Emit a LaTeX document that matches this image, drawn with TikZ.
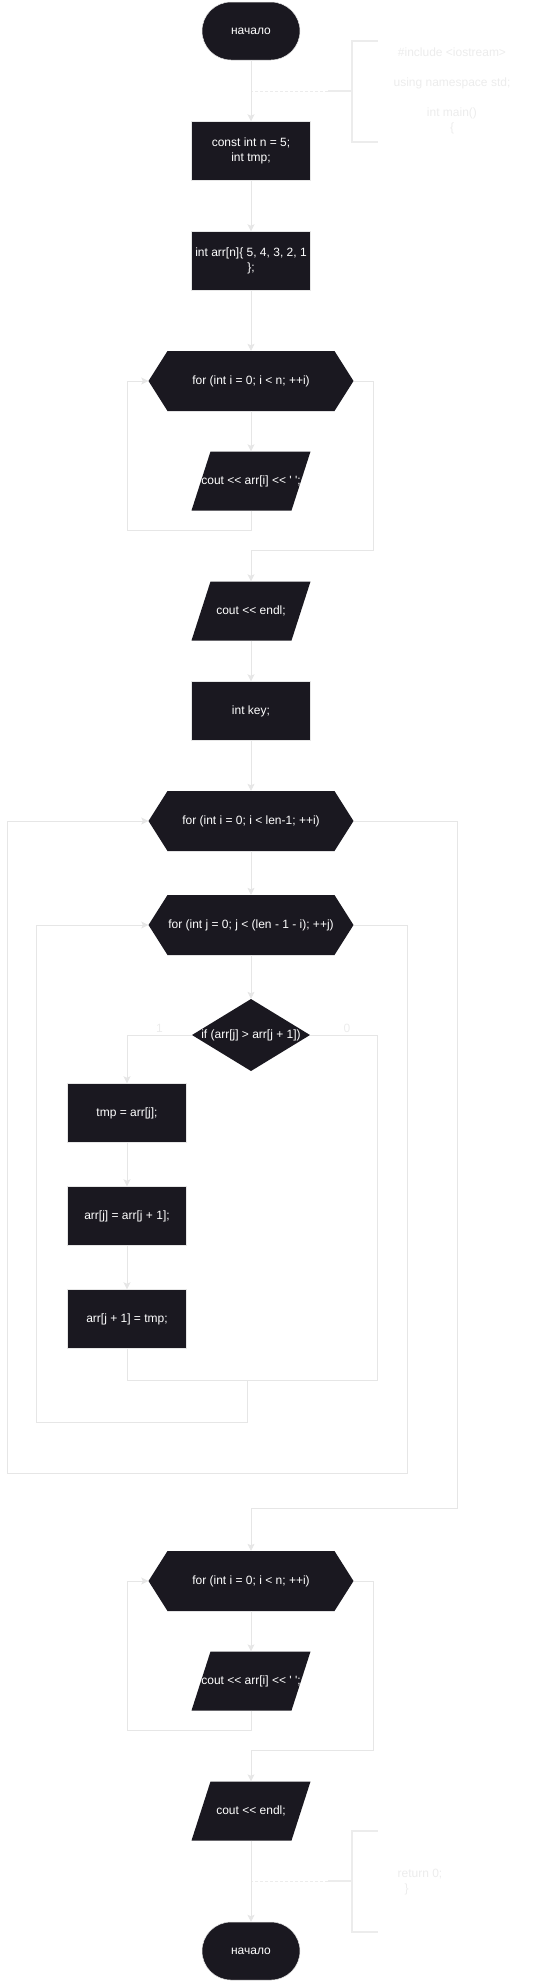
\documentclass[tikz,border=0pt]{standalone}
\usepackage{fontspec}
\setmainfont{Liberation Sans}[Ligatures=TeXOff]
\usetikzlibrary{arrows.meta}
\definecolor{blockfill}{RGB}{26,24,32}
\definecolor{linegray}{RGB}{230,230,230}
\definecolor{notegray}{RGB}{236,236,236}

\begin{document}
\begin{tikzpicture}[x=1pt,y=-1pt,>={Stealth[length=7pt,width=7pt,inset=1.5pt]},
    node distance=100pt,font=\fontsize{12}{15}\selectfont]
  \tikzstyle{conn}=[draw,color=linegray,line width=0.8pt,->]
  \tikzstyle{noteline}=[draw=notegray,line width=1.2pt]
  \tikzstyle{terminal}=[rectangle,rounded corners=29pt,fill=blockfill,draw=linegray,
    line width=0.5pt,text=white,minimum width=98pt,minimum height=58pt]
  \tikzstyle{block}=[rectangle,fill=blockfill,draw=linegray,line width=0.5pt,
    text=white,align=center,minimum width=119pt,minimum height=59pt,inner sep=2pt]
  \tikzstyle{io}=[rectangle,text=white,minimum width=119pt,minimum height=59pt,
    inner sep=0pt,path picture={\fill[blockfill]
      (path picture bounding box.south west)
      -- ([xshift=-19pt]path picture bounding box.south east)
      -- (path picture bounding box.north east)
      -- ([xshift=19pt]path picture bounding box.north west) -- cycle;}]
  \tikzstyle{forloop}=[rectangle,text=white,minimum width=205pt,minimum height=60pt,
    inner sep=0pt,path picture={\fill[blockfill]
      (path picture bounding box.west)
      -- ([xshift=19pt]path picture bounding box.north west)
      -- ([xshift=-19pt]path picture bounding box.north east)
      -- (path picture bounding box.east)
      -- ([xshift=-19pt]path picture bounding box.south east)
      -- ([xshift=19pt]path picture bounding box.south west) -- cycle;}]
  \tikzstyle{decision}=[rectangle,text=white,minimum width=118pt,minimum height=72pt,
    inner sep=0pt,path picture={\fill[blockfill]
      (path picture bounding box.west) -- (path picture bounding box.north)
      -- (path picture bounding box.east) -- (path picture bounding box.south) -- cycle;}]
  \tikzstyle{answer}=[text=notegray,inner sep=2pt]
  \tikzstyle{note}=[text=notegray,align=center]

  \useasboundingbox (0,0) rectangle (538,1982);

  % main column
  \node[terminal] (start) at (251,31) {начало};
  \node[block] (const) [below of=start, node distance=120pt] {const int n = 5;\\int tmp;};
  \node[block] (arr) [below of=const, node distance=110pt] {int arr[n]\{ 5, 4, 3, 2, 1\\\};};
  \node[forloop] (for1) [below of=arr, node distance=120pt] {for (int i = 0; i < n; ++i)};
  \node[io] (out1) [below of=for1] {cout << arr[i] << ' ';};
  \node[io] (endl1) [below of=out1, node distance=130pt] {cout << endl;};
  \node[block] (key) [below of=endl1] {int key;};
  \node[forloop] (fori) [below of=key, node distance=110pt] {for (int i = 0; i < len-1; ++i)};
  \node[forloop] (forj) [below of=fori, node distance=104pt] {for (int j = 0; j < (len - 1 - i); ++j)};
  \node[decision] (if) [below of=forj, node distance=110pt] {if (arr[j] > arr[j + 1])};
  \node[block] (tmp) at (127,1113) {tmp = arr[j];};
  \node[block] (swap1) [below of=tmp, node distance=103pt] {arr[j] = arr[j + 1];};
  \node[block] (swap2) [below of=swap1, node distance=103pt] {arr[j + 1] = tmp;};
  \node[forloop] (for2) at (251,1581) {for (int i = 0; i < n; ++i)};
  \node[io] (out2) [below of=for2] {cout << arr[i] << ' ';};
  \node[io] (endl2) [below of=out2, node distance=130pt] {cout << endl;};
  \node[terminal] (stop) [below of=endl2, node distance=140pt] {начало};

  % comments
  \node[note] (note1) at (452,91) {\#include <iostream>\\[15pt]using namespace std;\\[15pt]int main()\\\{};
  \node[note,align=left] (note2) at (420,1882) {return 0;\\\hspace*{7pt}\}};
  \coordinate (c1) at (251,91);
  \coordinate (c2) at (251,1881);
  \draw[noteline] (378,41) -- (352,41) -- (352,142) -- (378,142);
  \draw[noteline] (352,91) -- (328,91);
  \draw[noteline,line width=0.6pt,dash pattern=on 3pt off 2pt] (328,91) -- (c1);
  \draw[noteline] (378,1831) -- (352,1831) -- (352,1932) -- (378,1932);
  \draw[noteline] (352,1881) -- (328,1881);
  \draw[noteline,line width=0.6pt,dash pattern=on 3pt off 2pt] (328,1881) -- (c2);

  % straight arrows
  \path[conn] (start) edge (const)
              (const) edge (arr)
              (arr) edge (for1)
              (for1) edge (out1)
              (endl1) edge (key)
              (key) edge (fori)
              (fori) edge (forj)
              (forj) edge (if)
              (tmp) edge (swap1)
              (swap1) edge (swap2)
              (for2) edge (out2)
              (endl2) edge (stop);

  % first output loop
  \draw[conn] (out1.south) -- ++(0,20) -| ([xshift=-21pt]for1.west) -- (for1.west);
  \draw[conn] (for1.east) -- ++(20,0) |- ([yshift=31pt]endl1.north) -- (endl1.north);

  % sorting
  \coordinate (jjoin) at (247,1380);
  \draw[conn] (if.west) -| node[answer,above,pos=0.25] {1} (tmp.north);
  \draw[conn,-] (if.east) -- node[answer,above,pos=0.55] {0} ++(67,0) |- (jjoin);
  \draw[conn,-] (swap2.south) |- (jjoin);
  \draw[conn] (jjoin) -- ++(0,42) -| ([xshift=-112pt]forj.west) -- (forj.west);
  \draw[conn] (forj.east) -- ++(54,0) -- ++(0,548) -| ([xshift=-141pt]fori.west) -- (fori.west);
  \draw[conn] (fori.east) -- ++(104,0) |- ([yshift=42pt]for2.north) -- (for2.north);

  % second output loop
  \draw[conn] (out2.south) -- ++(0,20) -| ([xshift=-21pt]for2.west) -- (for2.west);
  \draw[conn] (for2.east) -- ++(20,0) |- ([yshift=31pt]endl2.north) -- (endl2.north);
\end{tikzpicture}
\end{document}
